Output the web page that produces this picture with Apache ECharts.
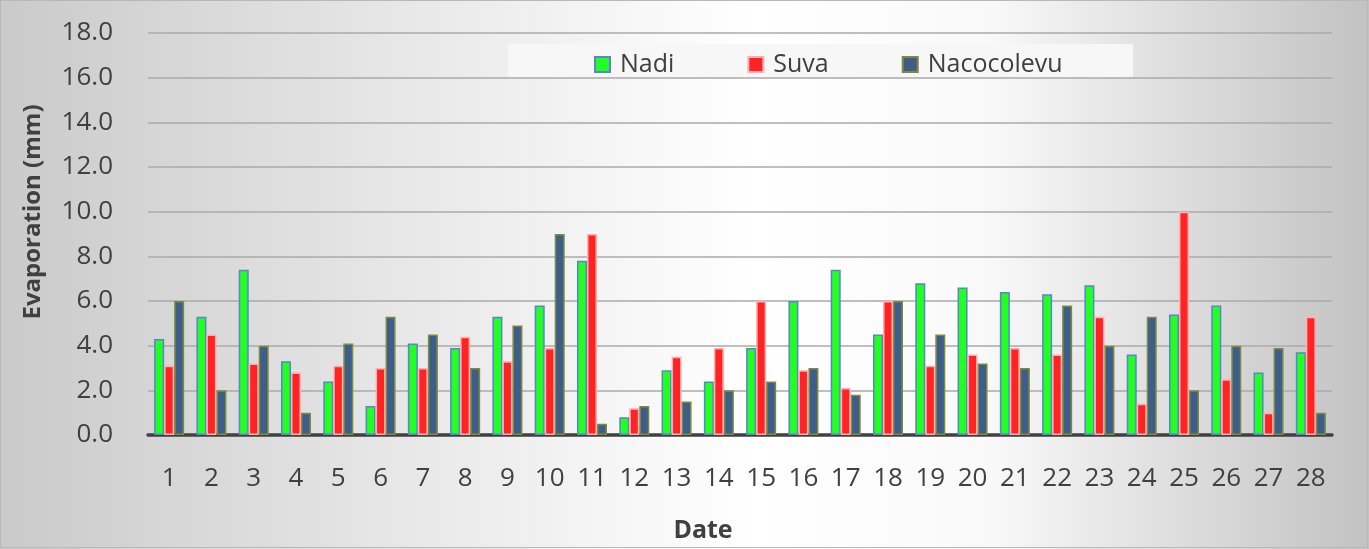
<!DOCTYPE html>
<html lang="en">
<head>
    <meta charset="UTF-8">
    <title>Evaporation by date</title>
    <script src="https://cdn.jsdelivr.net/npm/echarts@6/dist/echarts.min.js"></script>
    <style>
        html, body { margin: 0; padding: 0; }
    </style>
</head>
<body>
<div id="main" style="width: 1369px;height:549px;"></div>
<script type="text/javascript">
    // days of the month (x axis)
    var dates = ['1','2','3','4','5','6','7','8','9','10','11','12','13','14',
                 '15','16','17','18','19','20','21','22','23','24','25','26','27','28'];
    // evaporation (mm) per station
    var nadi = [4.3, 5.3, 7.4, 3.3, 2.4, 1.3, 4.1, 3.9, 5.3, 5.8, 7.8, 0.8, 2.9, 2.4,
                3.9, 6.0, 7.4, 4.5, 6.8, 6.6, 6.4, 6.3, 6.7, 3.6, 5.4, 5.8, 2.8, 3.7];
    var suva = [3.1, 4.5, 3.2, 2.8, 3.1, 3.0, 3.0, 4.4, 3.3, 3.9, 9.0, 1.2, 3.5, 3.9,
                6.0, 2.9, 2.1, 6.0, 3.1, 3.6, 3.9, 3.6, 5.3, 1.4, 10.0, 2.5, 1.0, 5.3];
    var nacocolevu = [6.0, 2.0, 4.0, 1.0, 4.1, 5.3, 4.5, 3.0, 4.9, 9.0, 0.5, 1.3, 1.5, 2.0,
                      2.4, 3.0, 1.8, 6.0, 4.5, 3.2, 3.0, 5.8, 4.0, 5.3, 2.0, 4.0, 3.9, 1.0];
    var yTicks = [0, 2, 4, 6, 8, 10, 12, 14, 16, 18];

    var myChart = echarts.init(document.getElementById('main'));
    var font = '"Open Sans", Lato, sans-serif';

    myChart.setOption({
        animation: false,
        backgroundColor: {
            type: 'linear', x: 0, y: 0, x2: 1, y2: 0,
            colorStops: [
                {offset: 0, color: '#cacaca'},
                {offset: 0.3, color: '#e8e8e8'},
                {offset: 0.55, color: '#ffffff'},
                {offset: 0.72, color: '#f9f9f9'},
                {offset: 1, color: '#c2c2c2'}
            ]
        },
        graphic: [
            {type: 'rect', z: -1, shape: {x: 0.5, y: 0.5, width: 1367, height: 547},
             style: {fill: 'none', stroke: '#b8b8b8', lineWidth: 1}},
            {type: 'rect', z: 0, shape: {x: 508, y: 44, width: 625, height: 34},
             style: {fill: '#f7f7f7', stroke: 'none'}}
        ],
        grid: {left: 148, right: 37, top: 33, bottom: 114, outerBoundsMode: 'none'},
        legend: {
            left: 589, top: 47,
            icon: 'rect',
            itemWidth: 15, itemHeight: 15,
            itemGap: 73,
            textStyle: {fontFamily: font, fontSize: 25, color: '#404040', padding: [0, 0, 0, 5]},
            data: ['Nadi', 'Suva', 'Nacocolevu']
        },
        xAxis: {
            type: 'category',
            data: dates,
            name: 'Date',
            nameLocation: 'middle',
            nameGap: 83,
            nameTextStyle: {fontFamily: font, fontSize: 25, fontWeight: 'bold', color: '#404040',
                            padding: [0, 74, 0, 0]},
            axisLine: {lineStyle: {color: '#404040', width: 3.5}},
            axisTick: {show: false},
            axisLabel: {fontFamily: font, fontSize: 26, color: '#404040', margin: 31}
        },
        yAxis: {
            type: 'value',
            min: yTicks[0], max: yTicks[yTicks.length - 1], interval: 2,
            name: 'Evaporation (mm)',
            nameLocation: 'middle',
            nameGap: 103,
            nameTextStyle: {fontFamily: font, fontSize: 24, fontWeight: 'bold', color: '#404040',
                            padding: [0, 0, 0, 44]},
            axisLine: {show: false},
            axisTick: {show: false},
            splitLine: {lineStyle: {color: '#aaaaaa', width: 1.5}},
            axisLabel: {
                fontFamily: font, fontSize: 26, color: '#404040', margin: 35,
                formatter: function (v) { return v.toFixed(1); }
            }
        },
        series: [{
            name: 'Nadi',
            type: 'bar',
            data: nadi,
            barGap: '0%',
            barCategoryGap: '29%',
            itemStyle: {color: '#22ff22', borderColor: '#5a84cc', borderWidth: 1.5}
        }, {
            name: 'Suva',
            type: 'bar',
            data: suva,
            itemStyle: {color: '#ff2424', borderColor: '#ffb0b0', borderWidth: 1.5}
        }, {
            name: 'Nacocolevu',
            type: 'bar',
            data: nacocolevu,
            itemStyle: {color: '#3d5e8b', borderColor: '#7d8c3c', borderWidth: 1.5}
        }]
    });
</script>
</body>
</html>
